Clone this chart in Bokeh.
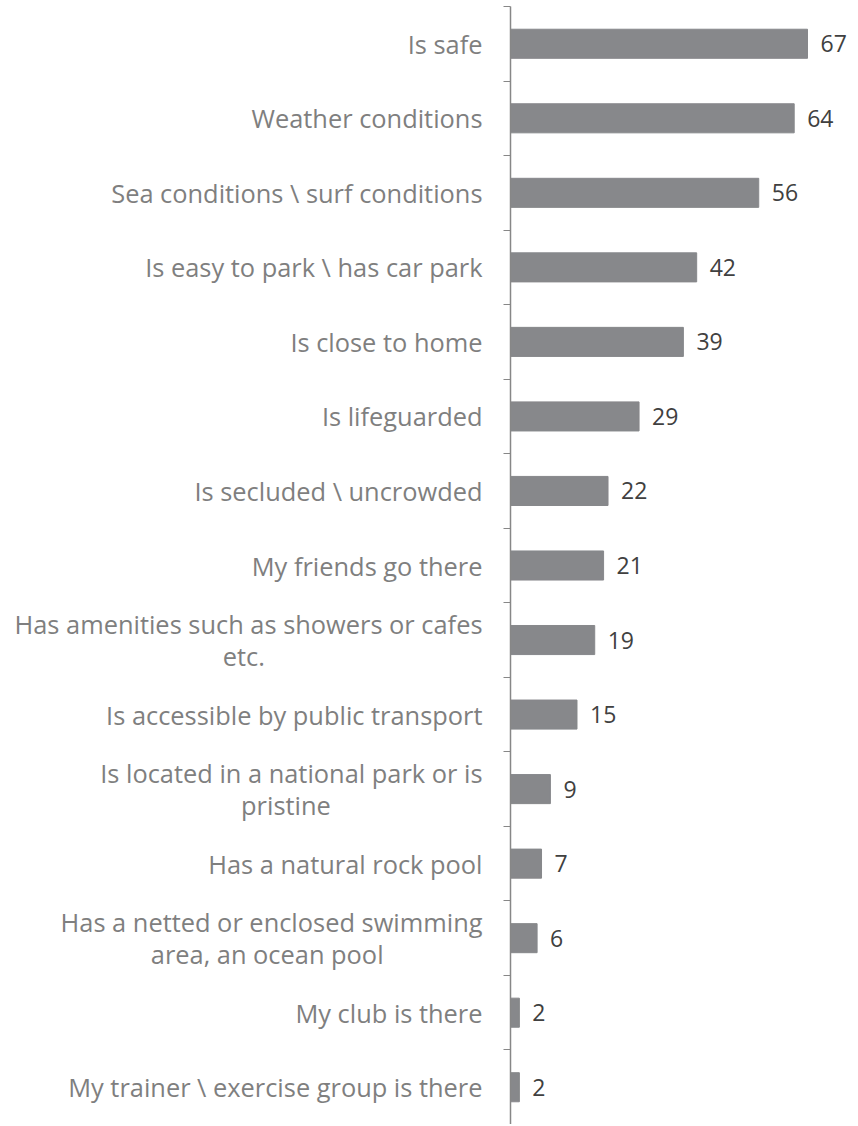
from bokeh.plotting import figure
from bokeh.models import ColumnDataSource, FixedTicker, LabelSet, Range1d
from bokeh.core.properties import value
from bokeh.embed import file_html
from bokeh.resources import INLINE

categories = [
    "Is safe",
    "Weather conditions",
    "Sea conditions \\ surf conditions",
    "Is easy to park \\ has car park",
    "Is close to home",
    "Is lifeguarded",
    "Is secluded \\ uncrowded",
    "My friends go there",
    "Has amenities such as showers or cafes\netc.",
    "Is accessible by public transport",
    "Is located in a national park or is\npristine",
    "Has a natural rock pool",
    "Has a netted or enclosed swimming\narea, an ocean pool",
    "My club is there",
    "My trainer \\ exercise group is there",
]
values = [67, 64, 56, 42, 39, 29, 22, 21, 19, 15, 9, 7, 6, 2, 2]

# trailing padding (in spaces) so that wrapped second lines sit centred under the first line
second_line_pad = {8: 33, 10: 23, 12: 15}

n = len(categories)
ypos = [n - 1 - i for i in range(n)]
src = ColumnDataSource(dict(y=ypos, v=values, lbl=[str(v) for v in values]))

p = figure(width=850, height=1124, output_backend="svg", toolbar_location=None,
           x_axis_location=None, y_range=Range1d(-0.5, n - 0.5), x_range=Range1d(0, 76.7),
           min_border_left=510, min_border_right=0, min_border_top=6, min_border_bottom=0)
p.outline_line_color = None
p.grid.visible = False

p.hbar(y="y", right="v", left=0, height=0.39, source=src, color="#87888b")

labels = LabelSet(x="v", y="y", text="lbl", source=src, x_offset=13, text_baseline="middle",
                  text_font=value("Open Sans"), text_font_size="23px", text_color="#404040")
p.add_layout(labels)

overrides = {}
for i, (y, c) in enumerate(zip(ypos, categories)):
    if i in second_line_pad:
        c = c + " " * second_line_pad[i]
    overrides[y] = c

ax = p.yaxis[0]
ax.ticker = FixedTicker(ticks=ypos, minor_ticks=[i - 0.5 for i in range(n + 1)])
ax.major_label_overrides = overrides
ax.major_tick_out = 0
ax.major_tick_in = 0
ax.minor_tick_out = 7
ax.minor_tick_in = 0
ax.minor_tick_line_color = "#878787"
ax.axis_line_color = "#878787"
ax.axis_line_width = 1.5
ax.major_label_standoff = 21
ax.major_label_text_font = "Open Sans"
ax.major_label_text_font_size = "25.4px"
ax.major_label_text_line_height = 0.95
ax.major_label_text_color = "#7f7f7f"

open("out.html", "w").write(file_html(p, INLINE))
